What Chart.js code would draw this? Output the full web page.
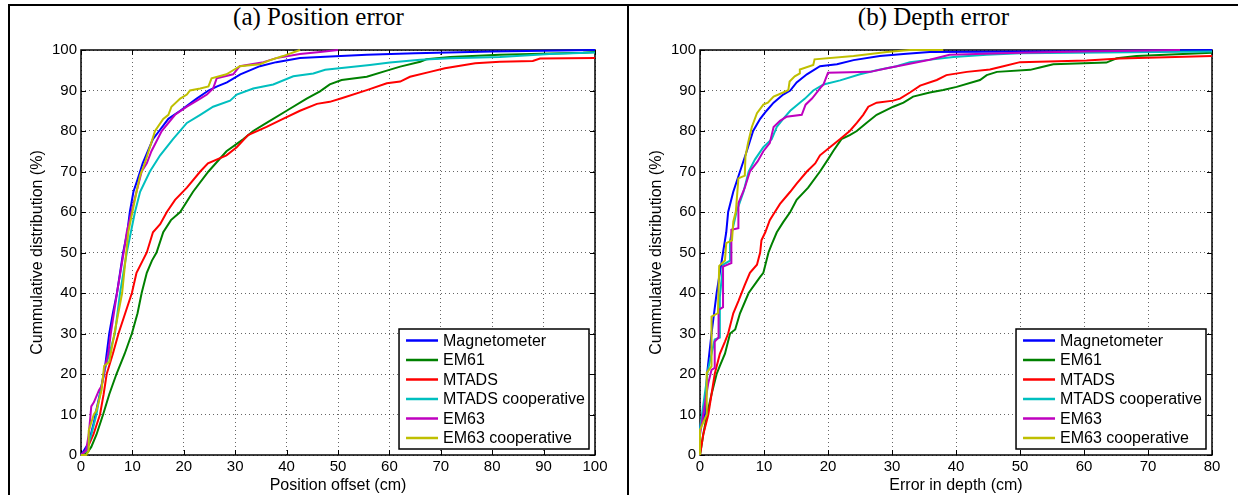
<!DOCTYPE html>
<html>
<head>
<meta charset="utf-8">
<script src="https://cdn.jsdelivr.net/npm/chart.js@4/dist/chart.umd.min.js"></script>
<style>
  html, body { margin: 0; padding: 0; background: #fff; }
  body { width: 1238px; height: 495px; position: relative; overflow: hidden; }
  #frame { position: absolute; left: 8px; top: 4px; width: 1240px; height: 500px; border-top: 2px solid #000; border-left: 2px solid #000; }
  #divider { position: absolute; left: 627px; top: 4px; width: 2px; height: 500px; background: #000; }
  .title { position: absolute; top: 4px; line-height: 26px; text-align: center; font-family: "Liberation Serif", "Times New Roman", serif; font-size: 25px; color: #000; }
  canvas { position: absolute; top: 6px; }
</style>
</head>
<body>
<div id="frame"></div>
<div id="divider"></div>
<div class="title" style="left:10px;width:617px">(a) Position error</div>
<div class="title" style="left:629px;width:609px">(b) Depth error</div>
<canvas id="posChart" width="617" height="489" style="left:10px"></canvas>
<canvas id="depChart" width="609" height="489" style="left:629px"></canvas>
<script>
const seriesNames = ['Magnetometer', 'EM61', 'MTADS', 'MTADS cooperative', 'EM63', 'EM63 cooperative'];
const seriesColors = ['#0000ff', '#008000', '#ff0000', '#00bfbf', '#bf00bf', '#bfbf00'];

const yTicks = [0, 10, 20, 30, 40, 50, 60, 70, 80, 90, 100];
const posTicks = [0, 10, 20, 30, 40, 50, 60, 70, 80, 90, 100];
const depTicks = [0, 10, 20, 30, 40, 50, 60, 70, 80];

// (a) position offset, cm  /  cumulative %
const posMagX = [0, 0.5, 1.5, 2.5, 2.8, 4, 4.5, 5.5, 6.2, 7, 7.6, 8.2, 9, 9.5, 10.2, 11, 11.5, 12, 13, 14, 15.2, 17, 19.3, 22.5, 24.8, 26.5, 28.4, 31, 34.8, 38, 42.6, 46.5, 55.6, 65, 80, 100];
const posMagY = [0, 1, 3, 8, 10, 17, 20, 30, 35, 40, 45, 50, 55, 60, 65, 68, 70, 72, 75, 78, 80, 83, 85, 88, 90, 91, 92, 94, 96, 97, 98, 98.3, 98.8, 99.2, 99.6, 100];
const posEm61X = [0, 1.2, 2, 3, 4.3, 5.5, 6.9, 8.5, 9.9, 11, 11.8, 12.8, 13.8, 14.7, 16, 17.5, 19.3, 21.8, 24.8, 28.3, 31.6, 33.5, 36.1, 40, 43.9, 46.5, 48.4, 50.7, 55.6, 59.5, 62.1, 66, 67.2, 71.8, 81.5, 97.7, 100];
const posEm61Y = [0, 0.5, 2, 5, 10, 15, 20, 25, 30, 35, 40, 45, 48, 50, 55, 58, 60, 65, 70, 75, 78, 80, 82, 85, 88, 89.8, 91.5, 92.6, 93.4, 94.9, 95.9, 97.1, 97.7, 98.3, 98.8, 99.3, 99.5];
const posMtadsX = [0, 1, 2.4, 3.7, 4.4, 5, 6.2, 7.3, 8.6, 9.9, 10.8, 12, 12.8, 14, 15.4, 16.7, 18.3, 20.6, 23.2, 24.7, 28.3, 30.3, 32.5, 36.1, 39.3, 42.6, 45.9, 48.4, 50.7, 55.6, 59.5, 62.1, 64, 67.9, 70.8, 76.7, 81.5, 87.9, 89.3, 100];
const posMtadsY = [0, 1, 5, 10, 15, 20, 25, 30, 35, 40, 45, 48, 50, 55, 57, 60, 63, 66, 70, 72, 74, 76, 79, 81, 83, 85, 86.7, 87.2, 88.1, 90.1, 91.8, 92.2, 93.4, 94.6, 95.5, 96.7, 97.1, 97.3, 97.9, 98];
const posMtcX = [0, 1, 2, 3, 4.4, 5.5, 6.6, 7.6, 8.9, 9.7, 10.5, 11.5, 13.4, 15.4, 17.9, 20.6, 23.2, 25.7, 29, 30.3, 33.5, 37.4, 41.3, 45.2, 47.5, 56.2, 60.1, 66, 71.8, 81.5, 91.2, 100];
const posMtcY = [0, 1, 5, 10, 20, 25, 30, 40, 50, 55, 60, 65, 70, 74, 78, 82, 84, 86, 87.5, 89, 90.5, 91.5, 93.5, 94.2, 95.1, 96.3, 96.9, 97.6, 97.95, 98.3, 99, 99.4];
const posEm63X = [0, 1, 1.5, 2, 2.5, 3.5, 4, 4.7, 5.3, 5.8, 7, 8.3, 8.9, 9.8, 10.8, 11.8, 12.8, 13.7, 15.7, 18.3, 20.6, 23.2, 24.5, 25.7, 26.4, 29.6, 30.9, 35.5, 38, 42.6, 46.5, 50];
const posEm63Y = [0, 1.2, 5, 12, 13, 16, 17, 22, 25, 30, 40, 50, 55, 60, 65, 70, 72, 75, 80, 84, 86, 88, 89, 90.5, 93, 94, 96, 97, 98, 99, 99.5, 100];
const posEmcX = [0, 1, 1.5, 1.5, 2.5, 3, 4, 4.5, 5.5, 6.5, 8, 8.8, 9.2, 10, 10.8, 11.5, 12.4, 13.4, 14.4, 16, 17, 17.6, 19.3, 20.6, 21.2, 23.2, 24.8, 25.4, 28.3, 29.6, 30.9, 34.8, 36.8, 39.3, 42.6];
const posEmcY = [0, 0, 1, 6, 10, 11, 16, 22, 23, 30, 40, 50, 55, 60, 65, 69, 72, 76, 80, 83, 84, 86, 88, 89, 90, 90.5, 91, 93, 94, 95, 96, 96.5, 97.5, 98.5, 100];

// (b) error in depth, cm  /  cumulative %
const depMagX = [0, 0, 0.8, 1.1, 1.8, 2.6, 3.1, 3.6, 4.1, 4.4, 5.2, 6.25, 7.3, 8.3, 9.4, 10.4, 11.5, 13, 14.1, 15.1, 16.7, 18.75, 21.4, 24, 28.1, 31.8, 35.9, 60, 80];
const depMagY = [0, 7, 10, 20, 30, 40, 45, 50, 55, 60, 65, 70, 75, 80, 83, 85, 87, 89, 90, 92, 94, 96, 96.5, 97.5, 98.5, 99, 99.5, 99.7, 100];
const depEm61X = [0, 0.5, 1.1, 1.8, 2.6, 3.1, 3.9, 4.7, 5.5, 6.25, 7.6, 9.4, 9.9, 10.7, 11.2, 12, 13, 14.1, 15.1, 16.9, 18.75, 20, 20.8, 22.1, 23.4, 24.5, 26, 27.6, 30.2, 31.8, 33.3, 35.9, 38, 40.1, 43.75, 44.8, 46.4, 51.6, 53.1, 55.2, 63.5, 65.1, 68.2, 80];
const depEm61Y = [0, 5, 10, 15, 20, 22, 25, 30, 31, 35, 40, 44, 45, 50, 52, 55, 57.5, 60, 63, 66, 70, 73, 75, 78, 79, 80, 82, 84, 86, 87, 88.5, 89.5, 90.1, 90.9, 92.6, 93.8, 94.6, 95.1, 95.7, 96.5, 96.9, 97.95, 98.5, 99.3];
const depMtadsX = [0, 0.5, 1.3, 1.8, 2.3, 3.1, 3.9, 4.4, 5.2, 6, 7, 7.8, 8.9, 9.4, 9.6, 10.2, 10.9, 11.7, 12.5, 14.1, 15.1, 16.7, 18, 18.75, 20.3, 21.9, 23.4, 24.5, 25.5, 26.3, 27.6, 30.2, 31.25, 32.8, 34.4, 37, 38.5, 41.7, 45.3, 47.4, 50, 60.4, 65.6, 80];
const depMtadsY = [0, 5, 10, 15, 20, 25, 28, 30, 35, 38, 42, 45, 47, 50, 53, 55, 58, 60, 62, 65, 67, 70, 72, 74, 76, 78, 80, 82, 84, 86, 87, 87.5, 88, 89.5, 91.2, 92.6, 93.8, 94.6, 95.2, 96, 97, 97.4, 97.9, 98.5];
const depMtcX = [0, 0, 1.1, 1.1, 2.3, 3.1, 3.1, 3.6, 4.7, 4.7, 5.7, 6.8, 7.6, 8.6, 9.9, 11.2, 12, 13, 14.1, 15.6, 16.4, 17.7, 19.3, 21.9, 25, 27.6, 30.7, 32.8, 35.4, 39.6, 44.8, 50, 80];
const depMtcY = [0, 6.5, 19, 20, 28.5, 29, 39, 47, 48, 53, 60, 65, 70, 73, 76, 78, 81, 83, 85, 87, 88, 90, 91.5, 92.5, 94, 95, 96, 97, 97.5, 98.3, 98.8, 99.2, 99.6];
const depEm63X = [0, 0, 0.5, 1.3, 1.8, 2.3, 2.3, 2.9, 2.9, 3.6, 3.6, 4.9, 4.9, 6, 6, 7, 7.8, 9, 9.9, 10.9, 11.5, 12.5, 13.5, 15.9, 16.5, 17.5, 19, 19.3, 20, 26.6, 29.2, 31.8, 35.9, 39, 50, 59.9, 75];
const depEm63Y = [0, 5, 10, 17.8, 21, 21.5, 28, 29, 35.8, 36.5, 46.5, 47.4, 55.6, 56, 62.2, 66, 70, 72.5, 75, 77, 81, 82.5, 83.5, 84, 86.5, 88, 91, 91.5, 94.4, 94.6, 95.5, 96.3, 97.6, 98.8, 99.3, 99.6, 100];
const depEmcX = [0, 0, 1.05, 1.05, 1.8, 1.8, 2.8, 3, 3.9, 4.1, 5, 5.2, 5.6, 6, 7, 7.1, 7.5, 8.1, 8.9, 9.9, 10.6, 11.5, 13, 13.8, 14, 14.8, 15.6, 15.6, 17.7, 17.9, 24, 29.2, 32.8, 38];
const depEmcY = [0, 6.2, 10, 20.3, 21.9, 34.2, 35, 46.7, 48, 52.3, 53, 57.6, 60.1, 68.3, 69, 73.7, 77, 81, 84.4, 86.5, 87, 88.5, 89.5, 90.1, 92.2, 93.5, 94.2, 95.2, 96.3, 97.7, 98.5, 99.5, 100, 100];

const posSeries = [[posMagX, posMagY], [posEm61X, posEm61Y], [posMtadsX, posMtadsY], [posMtcX, posMtcY], [posEm63X, posEm63Y], [posEmcX, posEmcY]];
const depSeries = [[depMagX, depMagY], [depEm61X, depEm61Y], [depMtadsX, depMtadsY], [depMtcX, depMtcY], [depEm63X, depEm63Y], [depEmcX, depEmcY]];

const SANS = '"Liberation Sans", Arial, sans-serif';

// matlab style axes box with inward ticks, drawn under the lines
const axesBox = {
  id: 'axesBox',
  beforeDatasetsDraw(chart) {
    const { ctx, chartArea: a, scales } = chart;
    ctx.save();
    ctx.strokeStyle = '#000';
    ctx.lineWidth = 1.5;
    ctx.strokeRect(a.left, a.top, a.right - a.left, a.bottom - a.top);
    ctx.lineWidth = 1;
    ctx.beginPath();
    scales.x.ticks.forEach((t) => {
      const px = Math.round(scales.x.getPixelForValue(t.value)) + 0.5;
      ctx.moveTo(px, a.bottom); ctx.lineTo(px, a.bottom - 5);
      ctx.moveTo(px, a.top); ctx.lineTo(px, a.top + 5);
    });
    scales.y.ticks.forEach((t) => {
      const py = Math.round(scales.y.getPixelForValue(t.value)) + 0.5;
      ctx.moveTo(a.left, py); ctx.lineTo(a.left + 5, py);
      ctx.moveTo(a.right, py); ctx.lineTo(a.right - 5, py);
    });
    ctx.stroke();
    ctx.restore();
  },
};

// boxed legend in the lower right corner
const boxLegend = {
  id: 'boxLegend',
  afterDraw(chart) {
    const { ctx, chartArea: a } = chart;
    const sets = chart.data.datasets;
    ctx.save();
    ctx.font = '16px ' + SANS;
    const textW = Math.max(...sets.map((d) => ctx.measureText(d.label).width));
    const rowH = 19.5;
    const w = 7 + 32 + 5 + textW + 4;
    const h = rowH * sets.length + 3;
    const x1 = a.right - 6 - w;
    const y1 = a.bottom - 6 - h;
    ctx.fillStyle = '#fff';
    ctx.fillRect(x1, y1, w, h);
    ctx.strokeStyle = '#000';
    ctx.lineWidth = 1.5;
    ctx.strokeRect(x1, y1, w, h);
    ctx.textBaseline = 'middle';
    sets.forEach((d, i) => {
      const cy = y1 + 11.5 + i * rowH;
      ctx.strokeStyle = d.borderColor;
      ctx.lineWidth = 2.5;
      ctx.beginPath();
      ctx.moveTo(x1 + 7, cy); ctx.lineTo(x1 + 39, cy);
      ctx.stroke();
      ctx.fillStyle = '#000';
      ctx.fillText(d.label, x1 + 44, cy + 1);
    });
    ctx.restore();
  },
};

function makePanel(id, series, xTicks, xTitle, padRight) {
  const datasets = series.map(([xs, ys], i) => ({
    label: seriesNames[i],
    data: xs.map((x, k) => ({ x, y: ys[k] })),
    borderColor: seriesColors[i],
    backgroundColor: seriesColors[i],
    borderWidth: 2,
    pointRadius: 0,
    tension: 0,
    fill: false,
    clip: false,
    order: series.length - i,
  }));
  return new Chart(document.getElementById(id), {
    type: 'line',
    data: { datasets },
    options: {
      responsive: false,
      animation: false,
      events: [],
      layout: { padding: { left: 14, right: padRight, top: 44, bottom: 0 } },
      plugins: { legend: { display: false }, tooltip: { enabled: false } },
      scales: {
        x: {
          type: 'linear',
          min: xTicks[0],
          max: xTicks[xTicks.length - 1],
          afterBuildTicks: (s) => { s.ticks = xTicks.map((v) => ({ value: v })); },
          afterFit: (s) => { s.height = 40; },
          grid: { color: 'rgba(0,0,0,0.6)', lineWidth: 1, drawTicks: false },
          border: { display: false, dash: [1, 3] },
          ticks: { color: '#000', font: { family: SANS, size: 15 }, padding: 3, maxRotation: 0 },
          title: { display: true, text: xTitle, color: '#000', font: { family: SANS, size: 16 }, padding: { top: 0, bottom: 0 } },
        },
        y: {
          type: 'linear',
          min: 0,
          max: 100,
          afterBuildTicks: (s) => { s.ticks = yTicks.map((v) => ({ value: v })); },
          afterFit: (s) => { s.width = 57; },
          grid: { color: 'rgba(0,0,0,0.6)', lineWidth: 1, drawTicks: false },
          border: { display: false, dash: [1, 3] },
          ticks: { color: '#000', font: { family: SANS, size: 15 }, padding: 4 },
          title: { display: true, text: 'Cummulative distribution (%)', color: '#000', font: { family: SANS, size: 16 }, padding: { top: 4, bottom: 0 } },
        },
      },
    },
    plugins: [axesBox, boxLegend],
  });
}

makePanel('posChart', posSeries, posTicks, 'Position offset (cm)', 32);
makePanel('depChart', depSeries, depTicks, 'Error in depth (cm)', 26);
</script>
</body>
</html>
